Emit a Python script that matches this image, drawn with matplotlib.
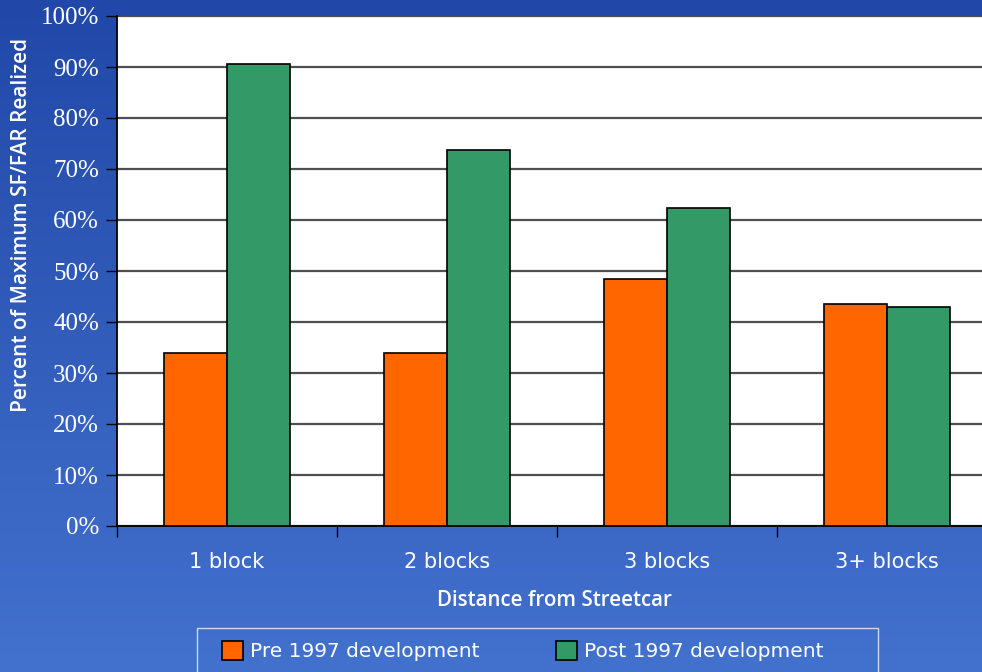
import numpy as np
import matplotlib.pyplot as plt
from matplotlib.patches import Rectangle

categories = ["1 block", "2 blocks", "3 blocks", "3+ blocks"]
pre_1997 = [33.9, 34.0, 48.4, 43.5]
post_1997 = [90.5, 73.8, 62.3, 43.0]
y_ticks = [0, 10, 20, 30, 40, 50, 60, 70, 80, 90, 100]

fig = plt.figure(figsize=(9.82, 6.72), dpi=100)

# blue gradient background
bg = fig.add_axes([0, 0, 1, 1], zorder=-10)
top = np.array([33, 72, 168]) / 255
bottom = np.array([67, 113, 206]) / 255
t = np.linspace(0, 1, 256)[:, None]
grad = top * (1 - t[..., None]) + bottom * t[..., None]
grad = np.repeat(grad, 2, axis=1)
bg.imshow(grad, aspect='auto', extent=[0, 1, 0, 1], origin='upper')
bg.axis('off')

W, H = 982, 672
ax = fig.add_axes([117 / W, (H - 526) / H, 880 / W, 510 / H])
ax.set_facecolor('white')

x = np.arange(len(categories))
bw = 0.286
ax.bar(x - bw / 2, pre_1997, bw, color='#ff6600', edgecolor='black', linewidth=1.2,
       label='Pre 1997 development', zorder=3)
ax.bar(x + bw / 2, post_1997, bw, color='#339966', edgecolor='black', linewidth=1.2,
       label='Post 1997 development', zorder=3)

ax.set_xlim(-0.5, 3.5)
ax.set_ylim(0, 100)
ax.set_yticks(y_ticks)
ax.set_yticklabels([f"{v}%" for v in y_ticks], fontfamily='Liberation Serif',
                   fontsize=18, color='white')
ax.yaxis.grid(True, color='#505050', linewidth=1.6, zorder=0)
ax.set_axisbelow(True)

ax.set_xticks(np.arange(0, 4) - 0.5, minor=False)
ax.set_xticklabels([])
ax.set_xticks(x, minor=True)
ax.set_xticklabels(categories, minor=True, fontsize=15, color='white',
                   fontfamily='DejaVu Sans')
ax.tick_params(axis='x', which='minor', length=0, pad=19)
ax.tick_params(axis='x', which='major', length=8, width=1, color='black')
ax.tick_params(axis='y', length=8, width=1, color='black', pad=5)

for s in ['top', 'right']:
    ax.spines[s].set_visible(False)
ax.spines['left'].set_color('black')
ax.spines['bottom'].set_color('black')
ax.spines['left'].set_linewidth(1.3)
ax.spines['bottom'].set_linewidth(1.3)

fig.text(554 / W, 1 - 601 / H, "Distance from Streetcar", fontsize=14.8,
         fontfamily='Open Sans', fontweight=600, color='white',
         ha='center', va='center')
fig.text(22 / W, 1 - 225 / H, "Percent of Maximum SF/FAR Realized", fontsize=15,
         fontfamily='Open Sans', fontweight=600, color='white',
         ha='center', va='center', rotation=90)

# legend frame drawn separately, running off the bottom edge
fig.patches.append(Rectangle((197 / W, -0.01), (878 - 197) / W, 0.01 + 44 / H,
                             transform=fig.transFigure, facecolor='none',
                             edgecolor='#d0d8f0', linewidth=1.0))
leg = fig.legend(loc='upper left', bbox_to_anchor=(222 / W, 1 - 641 / H), ncol=2,
                 frameon=False, labelcolor='white', handlelength=1.05,
                 handleheight=1.05, handletextpad=0.35, columnspacing=3.8,
                 borderpad=0, borderaxespad=0,
                 prop={'family': 'DejaVu Sans', 'size': 14.5})

fig.savefig('out.png', dpi=100)
